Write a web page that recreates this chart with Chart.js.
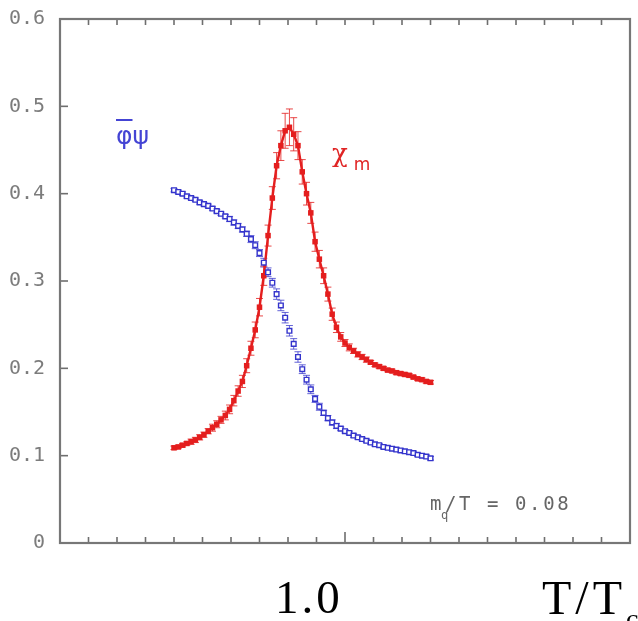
<!DOCTYPE html>
<html>
<head>
<meta charset="utf-8">
<script src="https://cdn.jsdelivr.net/npm/chart.js@4/dist/chart.umd.min.js"></script>
<style>
  body { margin: 0; background: #fff; }
  #wrap { position: relative; width: 638px; height: 621px; overflow: hidden; }
  .lbl { position: absolute; white-space: nowrap; line-height: 1; }
</style>
</head>
<body>
<div id="wrap">
  <canvas id="chart" width="638" height="621"></canvas>
  <div class="lbl" style="left:116px; top:121px; font:25px 'DejaVu Sans'; color:#4444d4;"><span style="text-decoration:overline;">φ</span>ψ</div>
  <div class="lbl" style="left:332px; top:138px; font:26px 'DejaVu Serif'; color:#e02424;">χ<span style="font:17px 'DejaVu Sans'; position:relative; top:8px; left:6px;">m</span></div>
  <div class="lbl" style="left:430px; top:492px; font:19px 'DejaVu Sans Mono'; color:#666; letter-spacing:2.6px;">m<span style="font-size:12px; position:relative; top:9px; margin-left:-3px; margin-right:-6px;">q</span>/T = 0.08</div>
  <div class="lbl" style="left:275px; top:570px; font:47px 'Liberation Serif'; color:#000; letter-spacing:3px;">1.0</div>
  <div class="lbl" style="left:542px; top:570px; font:48px 'Liberation Serif'; color:#000; letter-spacing:4px;">T/T<span style="font-size:28px; position:relative; top:14px; letter-spacing:0;">c</span></div>
</div>
<script>
// T/Tc sample points
const tValues = [
  0.9400, 0.9415, 0.9430, 0.9445, 0.9460, 0.9475, 0.9490, 0.9505, 0.9520, 0.9535,
  0.9550, 0.9565, 0.9580, 0.9595, 0.9610, 0.9625, 0.9640, 0.9655, 0.9670, 0.9685,
  0.9700, 0.9715, 0.9730, 0.9745, 0.9760, 0.9775, 0.9790, 0.9805, 0.9820, 0.9835,
  0.9850, 0.9865, 0.9880, 0.9895, 0.9910, 0.9925, 0.9940, 0.9955, 0.9970, 0.9985,
  1.0000, 1.0015, 1.0030, 1.0045, 1.0060, 1.0075, 1.0090, 1.0105, 1.0120, 1.0135,
  1.0150, 1.0165, 1.0180, 1.0195, 1.0210, 1.0225, 1.0240, 1.0255, 1.0270, 1.0285,
  1.0300
];

// chiral condensate (blue)
const condensate = [
  0.404, 0.402, 0.400, 0.397, 0.395, 0.393, 0.390, 0.388, 0.386, 0.383,
  0.380, 0.377, 0.374, 0.371, 0.367, 0.363, 0.359, 0.354, 0.348, 0.341,
  0.332, 0.321, 0.310, 0.298, 0.285, 0.272, 0.258, 0.243, 0.228, 0.213,
  0.199, 0.187, 0.176, 0.165, 0.156, 0.149, 0.143, 0.138, 0.134, 0.131,
  0.128, 0.126, 0.123, 0.121, 0.119, 0.117, 0.115, 0.113, 0.112, 0.110,
  0.109, 0.108, 0.107, 0.106, 0.105, 0.104, 0.103, 0.101, 0.100, 0.099,
  0.097
];
const condensateErr = [
  0.002, 0.002, 0.002, 0.002, 0.002, 0.002, 0.002, 0.002, 0.002, 0.002,
  0.002, 0.002, 0.002, 0.003, 0.003, 0.003, 0.003, 0.003, 0.004, 0.004,
  0.004, 0.005, 0.005, 0.005, 0.006, 0.006, 0.006, 0.006, 0.006, 0.006,
  0.005, 0.005, 0.005, 0.004, 0.004, 0.003, 0.003, 0.003, 0.003, 0.002,
  0.002, 0.002, 0.002, 0.002, 0.002, 0.002, 0.002, 0.002, 0.002, 0.002,
  0.002, 0.002, 0.002, 0.002, 0.002, 0.002, 0.002, 0.002, 0.002, 0.002,
  0.002
];

// susceptibility chi_m (red)
const chi = [
  0.109, 0.110, 0.112, 0.114, 0.116, 0.118, 0.121, 0.124, 0.128, 0.132,
  0.136, 0.141, 0.146, 0.153, 0.163, 0.174, 0.185, 0.203, 0.223, 0.244,
  0.270, 0.306, 0.352, 0.395, 0.432, 0.455, 0.472, 0.476, 0.468, 0.455,
  0.425, 0.400, 0.378, 0.345, 0.325, 0.306, 0.285, 0.262, 0.247, 0.236,
  0.229, 0.224, 0.220, 0.216, 0.213, 0.210, 0.207, 0.204, 0.202, 0.200,
  0.198, 0.197, 0.195, 0.194, 0.193, 0.192, 0.190, 0.188, 0.187, 0.185,
  0.184
];
const chiErr = [
  0.002, 0.002, 0.002, 0.002, 0.003, 0.003, 0.003, 0.003, 0.003, 0.004,
  0.004, 0.004, 0.005, 0.005, 0.006, 0.006, 0.007, 0.008, 0.008, 0.009,
  0.010, 0.011, 0.012, 0.013, 0.015, 0.017, 0.020, 0.021, 0.019, 0.016,
  0.014, 0.013, 0.012, 0.011, 0.010, 0.009, 0.008, 0.007, 0.006, 0.005,
  0.004, 0.004, 0.003, 0.003, 0.003, 0.003, 0.002, 0.002, 0.002, 0.002,
  0.002, 0.002, 0.002, 0.002, 0.002, 0.002, 0.002, 0.002, 0.002, 0.002,
  0.002
];

const errs = [condensateErr, chiErr];

function pts(ys) {
  return tValues.map((x, i) => ({ x: x, y: ys[i] }));
}

const errorBars = {
  id: 'errorBars',
  beforeDatasetsDraw(chart) {
    const ctx = chart.ctx;
    const y = chart.scales.y;
    chart.data.datasets.forEach((ds, di) => {
      const meta = chart.getDatasetMeta(di);
      const e = errs[di];
      ctx.save();
      ctx.strokeStyle = ds.errColor;
      ctx.lineWidth = 1;
      meta.data.forEach((p, i) => {
        const v = ds.data[i].y;
        const y1 = y.getPixelForValue(v + e[i]);
        const y2 = y.getPixelForValue(v - e[i]);
        ctx.beginPath();
        ctx.moveTo(p.x, y1); ctx.lineTo(p.x, y2);
        ctx.moveTo(p.x - 3.5, y1); ctx.lineTo(p.x + 3.5, y1);
        ctx.moveTo(p.x - 3.5, y2); ctx.lineTo(p.x + 3.5, y2);
        ctx.stroke();
      });
      ctx.restore();
    });
  }
};

const frameTicks = {
  id: 'frameTicks',
  afterDraw(chart) {
    const { ctx, chartArea: a, scales } = chart;
    const seg = (x1, y1, x2, y2) => {
      ctx.beginPath(); ctx.moveTo(x1, y1); ctx.lineTo(x2, y2); ctx.stroke();
    };
    ctx.save();
    ctx.strokeStyle = '#6e6e6e';
    ctx.lineWidth = 1.6;
    scales.x.ticks.forEach(t => {
      const px = scales.x.getPixelForValue(t.value);
      if (px <= a.left + 2 || px >= a.right - 2) return;
      const major = Math.abs(t.value - 1) < 1e-6;
      seg(px, a.bottom, px, a.bottom - (major ? 11 : 6));
      seg(px, a.top, px, a.top + 6);
    });
    scales.y.ticks.forEach(t => {
      const py = scales.y.getPixelForValue(t.value);
      if (py <= a.top + 2 || py >= a.bottom - 2) return;
      seg(a.left, py, a.left + 8, py);
    });
    scales.y2.ticks.forEach(t => {
      const v = t.value;
      if (Math.abs(v * 2 - Math.round(v * 2)) > 1e-6) return;
      const py = scales.y2.getPixelForValue(v);
      if (py <= a.top + 2 || py >= a.bottom - 1) return;
      const major = Math.abs(v - Math.round(v)) < 1e-6;
      seg(a.right, py, a.right - (major ? 12 : 4), py);
    });
    ctx.strokeStyle = '#777';
    ctx.lineWidth = 2.2;
    ctx.strokeRect(a.left, a.top, a.right - a.left, a.bottom - a.top);
    ctx.restore();
  }
};

new Chart(document.getElementById('chart'), {
  type: 'scatter',
  data: {
    datasets: [
      {
        label: 'condensate',
        data: pts(condensate),
        showLine: false,
        pointStyle: 'rect',
        pointRadius: 3.3,
        pointBorderWidth: 1.4,
        borderColor: '#3434cc',
        backgroundColor: '#ffffff',
        errColor: 'rgba(60,60,205,0.8)'
      },
      {
        label: 'chi',
        data: pts(chi),
        showLine: true,
        borderColor: '#e41e1e',
        borderWidth: 2.4,
        pointStyle: 'rect',
        pointRadius: 3.9,
        pointBorderWidth: 0,
        pointBackgroundColor: '#e41e1e',
        backgroundColor: '#e41e1e',
        errColor: 'rgba(228,40,40,0.85)'
      }
    ]
  },
  options: {
    responsive: false,
    animation: false,
    layout: { padding: { top: 17, left: 0, right: 0, bottom: 0 } },
    plugins: { legend: { display: false }, tooltip: { enabled: false } },
    scales: {
      x: {
        type: 'linear',
        min: 0.9,
        max: 1.1,
        ticks: { stepSize: 0.01, display: false },
        grid: { display: false },
        border: { display: false },
        afterFit: s => { s.height = 78; }
      },
      y: {
        min: 0,
        max: 0.6,
        ticks: {
          stepSize: 0.1,
          padding: 7,
          color: '#7c7c7c',
          font: { family: 'DejaVu Sans Mono', size: 20 },
          callback: v => (v === 0 ? '0' : v.toFixed(1))
        },
        grid: { display: false },
        border: { display: false },
        afterFit: s => { s.width = 60; }
      },
      y2: {
        position: 'right',
        min: -0.53,
        max: 6.97,
        ticks: { stepSize: 0.5, display: false },
        grid: { display: false },
        border: { display: false },
        afterFit: s => { s.width = 8; }
      }
    }
  },
  plugins: [errorBars, frameTicks]
});
</script>
</body>
</html>
